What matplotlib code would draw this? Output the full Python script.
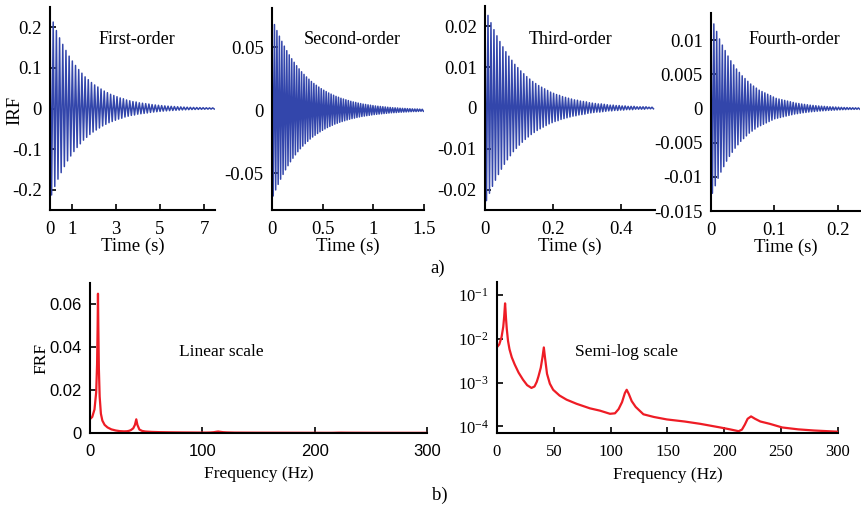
import matplotlib
matplotlib.use('Agg')
import matplotlib.pyplot as plt
from matplotlib.ticker import FixedLocator, FormatStrFormatter, LogLocator, NullLocator

plt.rcParams['font.family'] = ['Liberation Serif', 'DejaVu Serif']
plt.rcParams['mathtext.fontset'] = 'stix'
plt.rcParams['axes.unicode_minus'] = False

# impulse response: peak height of each cycle (read from the top row), and the period
irf1_period = 0.145
irf1_peaks = [0.235, 0.213, 0.192, 0.174, 0.158, 0.143, 0.129, 0.117, 0.106, 0.096,
              0.087, 0.078, 0.071, 0.064, 0.058, 0.053, 0.048, 0.043, 0.039, 0.035,
              0.032, 0.029, 0.026, 0.024, 0.021, 0.019, 0.017, 0.016, 0.014, 0.013,
              0.012, 0.011, 0.0096, 0.0087, 0.0079, 0.0071, 0.0064, 0.0058, 0.0053, 0.0048,
              0.0043, 0.0039, 0.0035, 0.0032, 0.0029, 0.0026, 0.0024, 0.0022, 0.0020, 0.0018,
              0.0016, 0.0015, 0.0013]

irf2_period = 0.0243
irf2_peaks = [0.073, 0.0679, 0.0631, 0.0587, 0.0546, 0.0508, 0.0472, 0.0439, 0.0408, 0.0380,
              0.0353, 0.0328, 0.0305, 0.0284, 0.0264, 0.0246, 0.0228, 0.0212, 0.0198, 0.0184,
              0.0171, 0.0159, 0.0148, 0.0137, 0.0128, 0.0119, 0.0110, 0.0103, 0.0095, 0.0089,
              0.0083, 0.0077, 0.0071, 0.0066, 0.0062, 0.0057, 0.0053, 0.0049, 0.0046, 0.0043,
              0.0040, 0.0037, 0.0034, 0.0032, 0.0030, 0.0028, 0.0026, 0.0024, 0.0022, 0.0020,
              0.0019, 0.0018, 0.0016, 0.0015, 0.0014, 0.0013, 0.0012, 0.0011, 0.0010, 0.0010,
              0.0009, 0.0008, 0.0008]

irf3_period = 0.00877
irf3_peaks = [0.0247, 0.0227, 0.0209, 0.0192, 0.0177, 0.0163, 0.0150, 0.0138, 0.0127, 0.0117,
              0.0107, 0.0099, 0.0091, 0.0084, 0.0077, 0.0071, 0.0065, 0.0060, 0.0055, 0.0051,
              0.0047, 0.0043, 0.0039, 0.0036, 0.0033, 0.0031, 0.0028, 0.0026, 0.0024, 0.0022,
              0.0020, 0.0019, 0.0017, 0.0016, 0.0015, 0.0013, 0.0012, 0.0011, 0.0010, 0.0010,
              0.0009, 0.0008, 0.0007, 0.0007, 0.0006, 0.0006, 0.0005, 0.0005, 0.0004, 0.0004,
              0.0004, 0.0003, 0.0003, 0.0003, 0.0003, 0.0002, 0.0002, 0.0002]

irf4_period = 0.00447
irf4_peaks = [0.0136, 0.0124, 0.0113, 0.0102, 0.0093, 0.0085, 0.0077, 0.0070, 0.0064, 0.0058,
              0.0053, 0.0048, 0.0044, 0.0040, 0.0036, 0.0033, 0.0030, 0.0027, 0.0025, 0.0023,
              0.0021, 0.0019, 0.0017, 0.0015, 0.0014, 0.0013, 0.0012, 0.0011, 0.0010, 0.0009,
              0.0008, 0.00074, 0.00067, 0.00061, 0.00056, 0.0005, 0.00046, 0.00042, 0.00038, 0.00035,
              0.00032, 0.00029, 0.00026, 0.00024, 0.00022, 0.0002, 0.00018, 0.00016, 0.00015, 0.00013,
              0.00012, 0.00011, 0.0001, 0.00009]

irf_titles = ['First-order', 'Second-order', 'Third-order', 'Fourth-order']

# frequency response
frf_freq = [0, 2, 4, 5.5, 6.3, 6.8, 7.1, 7.4, 7.9, 8.6,
            9.7, 11, 13, 15.6, 19, 22.9, 26.5, 30.3, 33, 35,
            36.5, 38.5, 40, 41.2, 42.2, 44, 46.5, 49.4, 55, 61.2,
            70, 81.7, 90.6, 99.4, 103.8, 107, 110, 112.5, 114.1, 116,
            118.5, 122, 128.8, 138, 149.4, 165, 178.8, 196.4, 205, 212.6,
            215.5, 218, 220.5, 223.5, 227, 231.7, 240, 250.9, 265, 278.8, 300]
frf_val = [6.5e-3, 7.5e-3, 1.1e-2, 1.9e-2, 3.2e-2, 5.0e-2, 6.5e-2, 5.0e-2, 3.0e-2, 1.7e-2,
           9.0e-3, 5.8e-3, 3.8e-3, 2.6e-3, 1.7e-3, 1.17e-3, 8.8e-4, 7.6e-4, 8.2e-4, 1.05e-3,
           1.4e-3, 2.2e-3, 3.8e-3, 6.4e-3, 3.8e-3, 1.6e-3, 9.5e-4, 6.9e-4, 5.1e-4, 4.1e-4,
           3.3e-4, 2.6e-4, 2.3e-4, 1.95e-4, 2.0e-4, 2.5e-4, 3.6e-4, 5.8e-4, 6.9e-4, 5.5e-4,
           3.8e-4, 2.8e-4, 1.9e-4, 1.65e-4, 1.45e-4, 1.3e-4, 1.15e-4, 9.5e-5, 8.6e-5, 7.8e-5,
           8.5e-5, 1.1e-4, 1.5e-4, 1.7e-4, 1.5e-4, 1.3e-4, 1.15e-4, 9.5e-5, 8.6e-5, 8.1e-5, 7.6e-5]


def zigzag(period, peaks):
    t, y = [], []
    for n in range(len(peaks) - 1):
        t += [n * period, (n + 0.5) * period]
        y += [peaks[n], -peaks[n + 1]]
    return t, y


def style(ax, size=13.5):
    ax.spines['top'].set_visible(False)
    ax.spines['right'].set_visible(False)
    ax.spines['left'].set_linewidth(1.5)
    ax.spines['bottom'].set_linewidth(1.5)
    ax.tick_params(direction='in', length=4, width=1.2, labelsize=size)
    ax.tick_params(axis='x', pad=8)
    ax.tick_params(axis='y', pad=6)


fig = plt.figure(figsize=(8.62, 5.12), dpi=100)
W, H = 862.0, 512.0


def box(l, t, r, b):
    return [l / W, 1 - b / H, (r - l) / W, (b - t) / H]


blue = '#3346ab'
red = '#ee1c25'

irf_sets = [(irf1_period, irf1_peaks), (irf2_period, irf2_peaks),
            (irf3_period, irf3_peaks), (irf4_period, irf4_peaks)]
boxes = [box(50, 7, 215, 210), box(272, 8, 424, 210), box(485, 6, 655, 210), box(711, 13, 860, 211)]
xlims = [7.5, 1.5, 0.5, 0.235]
ylims = [(-0.25, 0.25), (-0.079, 0.081), (-0.025, 0.025), (-0.015, 0.014)]
xticks = [[0, 1, 3, 5, 7], [0, 0.5, 1, 1.5], [0, 0.2, 0.4], [0, 0.1, 0.2]]
yticks = [[-0.2, -0.1, 0, 0.1, 0.2], [-0.05, 0, 0.05], [-0.02, -0.01, 0, 0.01, 0.02],
          [-0.015, -0.01, -0.005, 0, 0.005, 0.01]]
title_x = [137, 352, 571, 794]

for i in range(4):
    ax = fig.add_axes(boxes[i])
    t, y = zigzag(*irf_sets[i])
    ax.plot(t, y, color=blue, lw=1.1)
    ax.set_xlim(0, xlims[i])
    ax.set_ylim(*ylims[i])
    ax.xaxis.set_major_locator(FixedLocator(xticks[i]))
    ax.yaxis.set_major_locator(FixedLocator(yticks[i]))
    ax.xaxis.set_major_formatter(FormatStrFormatter('%g'))
    ax.yaxis.set_major_formatter(FormatStrFormatter('%g'))
    style(ax)
    ax.set_xlabel('Time (s)', fontsize=13.5, labelpad=0)
    fig.text(title_x[i] / W, 1 - 40 / H, irf_titles[i], fontsize=13, ha='center', va='center')

fig.text(15 / W, 1 - 110 / H, 'IRF', fontsize=13.5, rotation=90, ha='center', va='center')

# linear scale
ax = fig.add_axes(box(90, 283, 427, 433))
ax.plot(frf_freq, frf_val, color=red, lw=1.6)
ax.set_xlim(0, 300)
ax.set_ylim(0, 0.07)
ax.xaxis.set_major_locator(FixedLocator([0, 100, 200, 300]))
ax.yaxis.set_major_locator(FixedLocator([0, 0.02, 0.04, 0.06]))
ax.yaxis.set_major_formatter(FormatStrFormatter('%g'))
style(ax, 12)
for lab in ax.get_xticklabels() + ax.get_yticklabels():
    lab.set_family(['Liberation Sans', 'DejaVu Sans'])
ax.set_xlabel('Frequency (Hz)', fontsize=12.5, labelpad=5)
ax.set_ylabel('FRF', fontsize=12.5, labelpad=0)
fig.text(221 / W, 1 - 352 / H, 'Linear scale', fontsize=12.5, ha='center', va='center')

# semi-log scale
ax = fig.add_axes(box(497, 282, 838, 433))
ax.semilogy(frf_freq, frf_val, color=red, lw=1.6)
ax.set_xlim(0, 300)
ax.set_ylim(7.1e-5, 0.2)
ax.xaxis.set_major_locator(FixedLocator([0, 50, 100, 150, 200, 250, 300]))
ax.yaxis.set_major_locator(LogLocator(base=10))
ax.yaxis.set_minor_locator(NullLocator())
style(ax, 12)
ax.set_xlabel('Frequency (Hz)', fontsize=12.5, labelpad=5)
fig.text(627 / W, 1 - 352 / H, 'Semi-log scale', fontsize=12.5, ha='center', va='center')

fig.text(438 / W, 1 - 268 / H, 'a)', fontsize=13.5, ha='center', va='center')
fig.text(440 / W, 1 - 495 / H, 'b)', fontsize=13.5, ha='center', va='center')

fig.savefig('out.png', dpi=100)
